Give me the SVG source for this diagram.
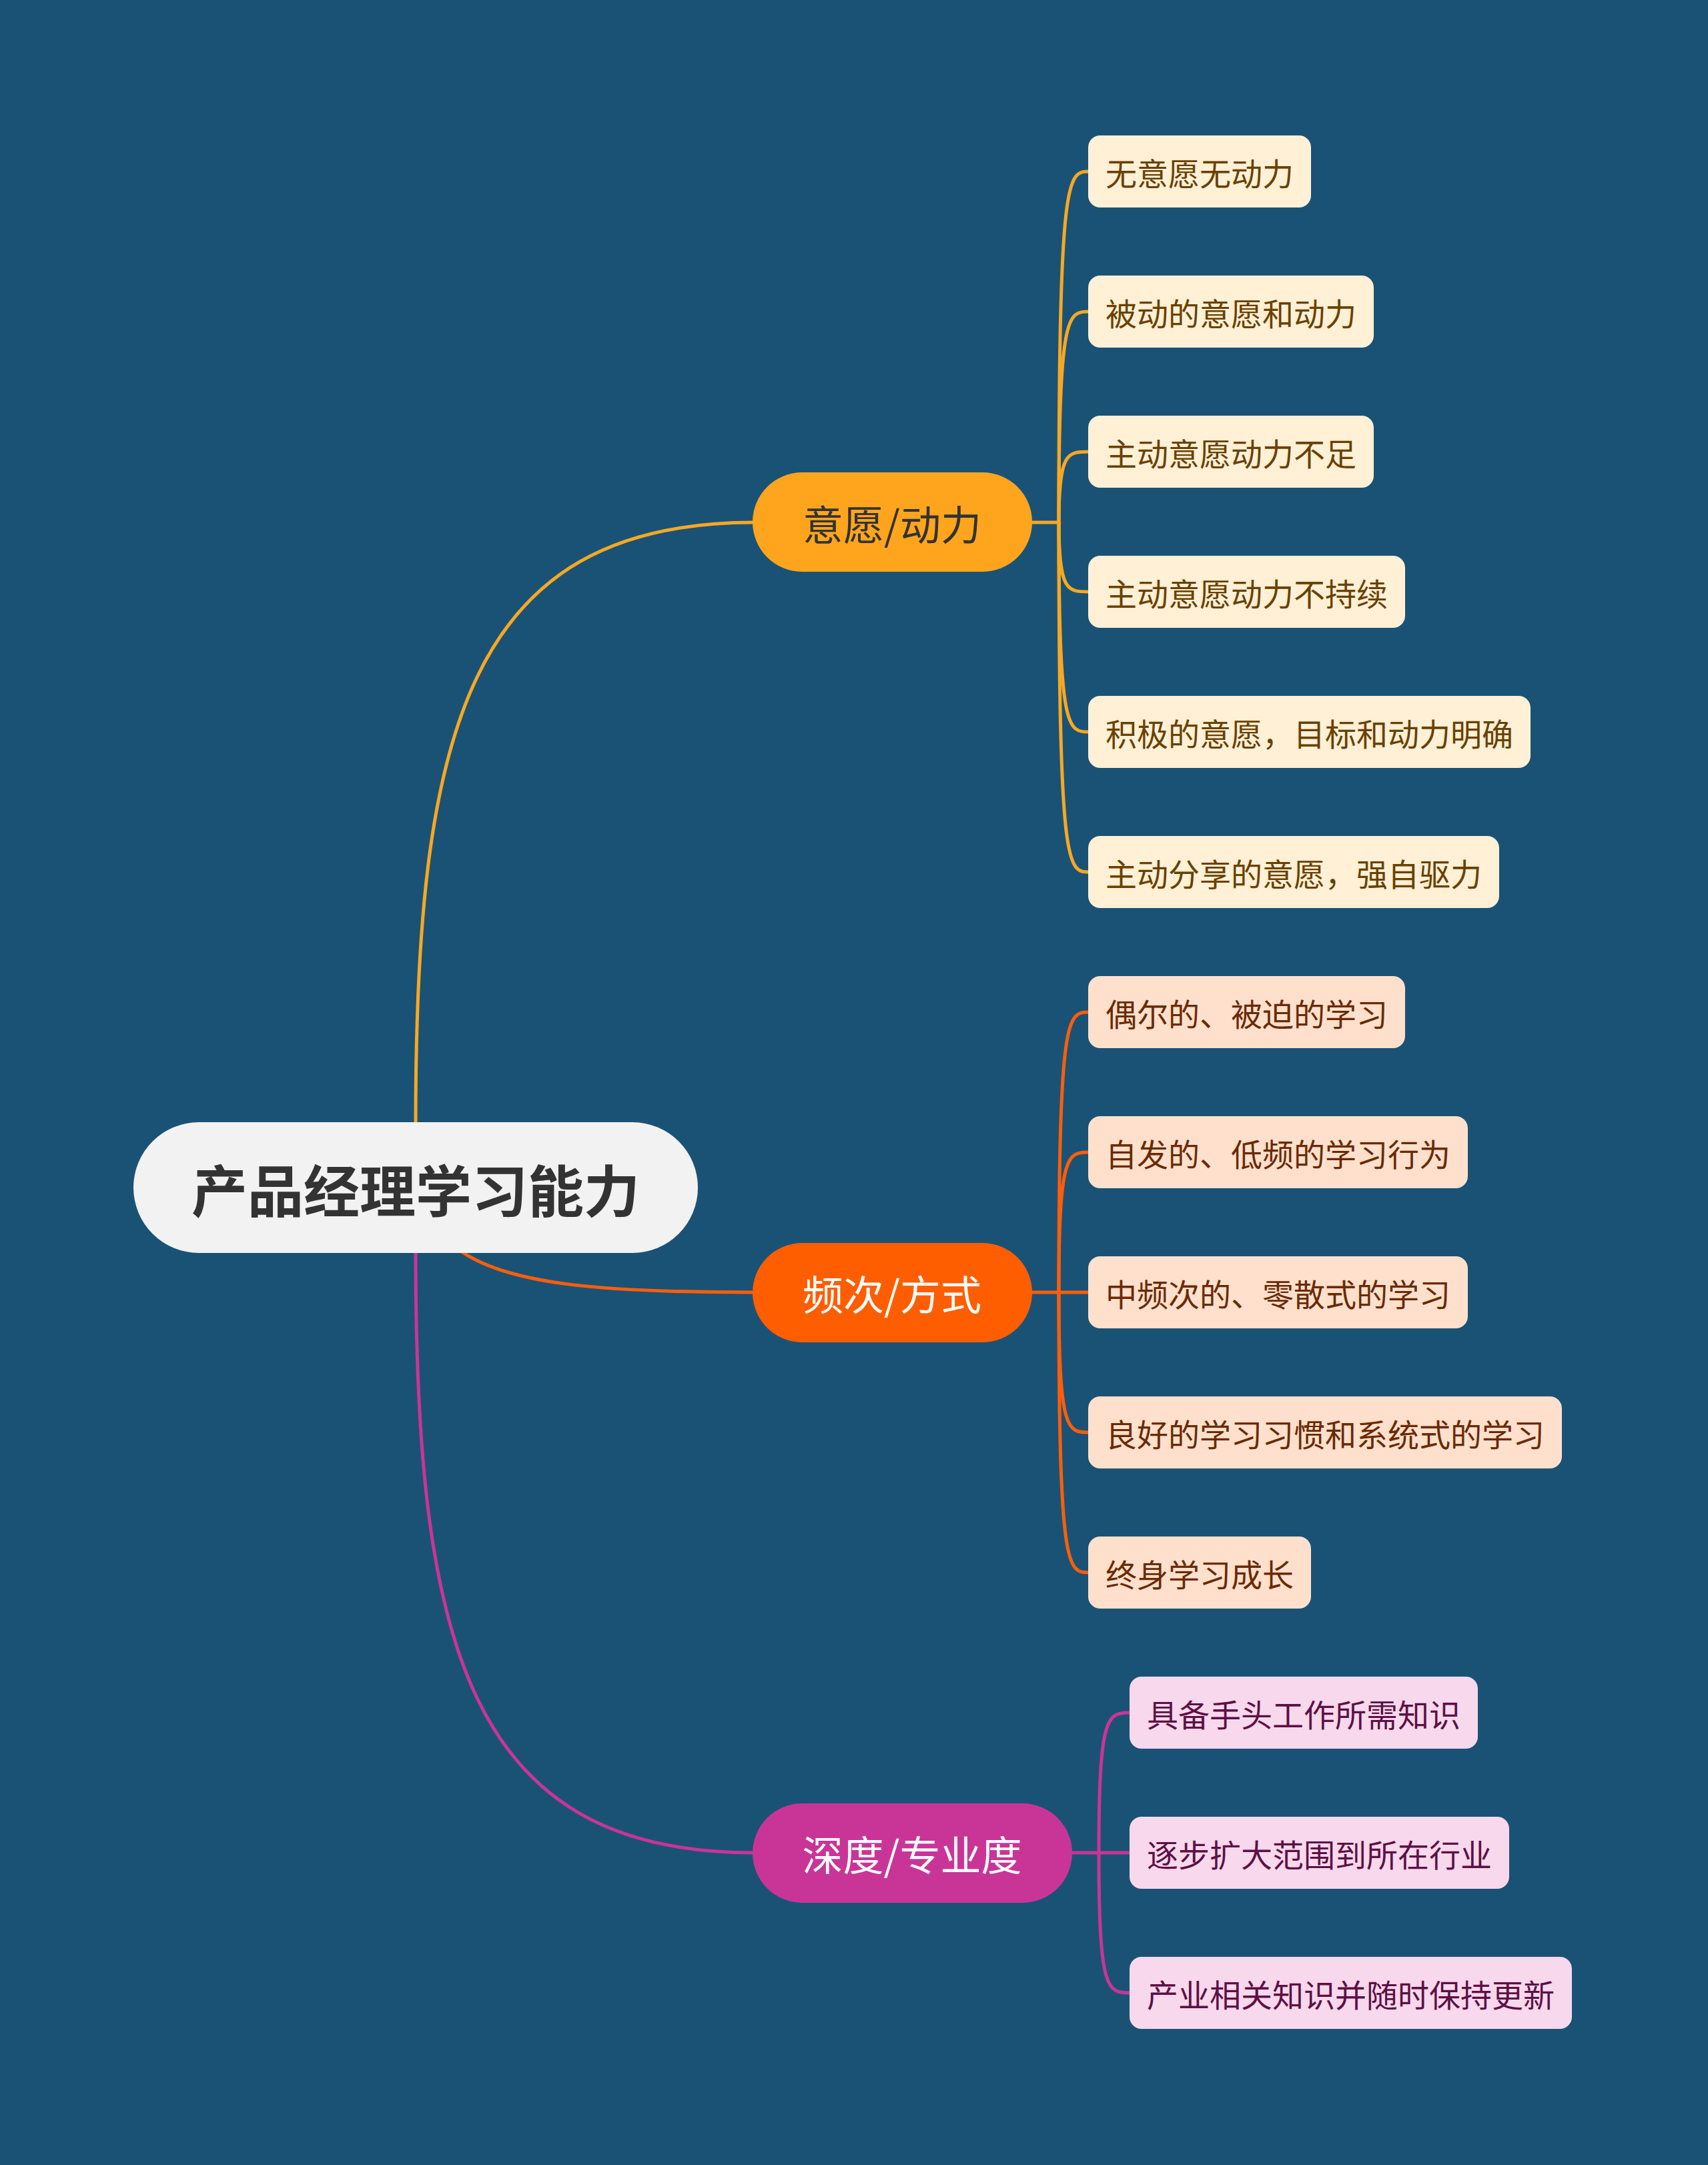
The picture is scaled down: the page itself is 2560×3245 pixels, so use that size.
<svg xmlns="http://www.w3.org/2000/svg" width="2560" height="3245" viewBox="0 0 2560 3245">
<style>
text { font-family: "Noto Sans CJK SC", "Noto Sans", sans-serif; dominant-baseline: central; }
.root-t { font-size: 84px; font-weight: bold; fill: #333333; text-anchor: middle; }
.main-t { font-size: 61px; text-anchor: middle; }
.leaf-t { font-size: 47px; }
.c { fill: none; stroke-linecap: round; }
.c1 { stroke: #f7a823; stroke-width: 5; }
.c2 { stroke: #ff5e0a; stroke-width: 5; }
.c3 { stroke: #c93597; stroke-width: 5; }
.l1 { fill: #fff0d6; }
.l2 { fill: #ffe0cc; }
.l3 { fill: #f8d8ec; }
.t1 { fill: #6a4100; }
.t2 { fill: #6b2a05; }
.t3 { fill: #5e1045; }
</style>
<rect x="0" y="0" width="2560" height="3245" fill="#1a5276"/>
<g id="connectors">
  <path class="c c1" d="M 623 1684 C 623 1100, 700 783, 1130 783"/>
  <path class="c c2" d="M 689 1874 C 760 1925, 900 1937, 1130 1937"/>
  <path class="c c3" d="M 623 1876 C 623 2460, 700 2777, 1130 2777"/>
  <path class="c c1" d="M 1545 783 L 1587 783"/>
  <path class="c c1" d="M 1587 783 C 1587 257, 1600 257, 1633 257"/>
  <path class="c c1" d="M 1587 783 C 1587 467, 1600 467, 1633 467"/>
  <path class="c c1" d="M 1587 783 C 1587 677, 1600 677, 1633 677"/>
  <path class="c c1" d="M 1587 783 C 1587 887, 1600 887, 1633 887"/>
  <path class="c c1" d="M 1587 783 C 1587 1097, 1600 1097, 1633 1097"/>
  <path class="c c1" d="M 1587 783 C 1587 1307, 1600 1307, 1633 1307"/>
  <path class="c c2" d="M 1545 1937 L 1587 1937"/>
  <path class="c c2" d="M 1587 1937 C 1587 1517, 1600 1517, 1633 1517"/>
  <path class="c c2" d="M 1587 1937 C 1587 1727, 1600 1727, 1633 1727"/>
  <path class="c c2" d="M 1587 1937 L 1633 1937"/>
  <path class="c c2" d="M 1587 1937 C 1587 2147, 1600 2147, 1633 2147"/>
  <path class="c c2" d="M 1587 1937 C 1587 2357, 1600 2357, 1633 2357"/>
  <path class="c c3" d="M 1605 2777 L 1647 2777"/>
  <path class="c c3" d="M 1647 2777 C 1647 2567, 1660 2567, 1695 2567"/>
  <path class="c c3" d="M 1647 2777 L 1695 2777"/>
  <path class="c c3" d="M 1647 2777 C 1647 2987, 1660 2987, 1695 2987"/>
</g>
<g id="root">
  <rect x="200" y="1682" width="846" height="196" rx="98" fill="#f2f2f2"/>
  <text class="root-t" x="623" y="1780">产品经理学习能力</text>
</g>
<g id="b1">
  <rect x="1128" y="708" width="419" height="149" rx="74.5" fill="#ffa51d"/>
  <text class="main-t" x="1337" y="783" fill="#333333">意愿/动力</text>
</g>
<g id="b2">
  <rect x="1128" y="1863" width="419" height="149" rx="74.5" fill="#ff5e00"/>
  <text class="main-t" x="1337" y="1937" fill="#ffffff">频次/方式</text>
</g>
<g id="b3">
  <rect x="1128" y="2703" width="479" height="149" rx="74.5" fill="#c93597"/>
  <text class="main-t" x="1367" y="2777" fill="#ffffff">深度/专业度</text>
</g>
<g id="l1-1"><rect class="l1" x="1631" y="203" width="334" height="108" rx="18"/><text class="leaf-t t1" x="1657" y="257">无意愿无动力</text></g>
<g id="l1-2"><rect class="l1" x="1631" y="413" width="428" height="108" rx="18"/><text class="leaf-t t1" x="1657" y="467">被动的意愿和动力</text></g>
<g id="l1-3"><rect class="l1" x="1631" y="623" width="428" height="108" rx="18"/><text class="leaf-t t1" x="1657" y="677">主动意愿动力不足</text></g>
<g id="l1-4"><rect class="l1" x="1631" y="833" width="475" height="108" rx="18"/><text class="leaf-t t1" x="1657" y="887">主动意愿动力不持续</text></g>
<g id="l1-5"><rect class="l1" x="1631" y="1043" width="663" height="108" rx="18"/><text class="leaf-t t1" x="1657" y="1097">积极的意愿，目标和动力明确</text></g>
<g id="l1-6"><rect class="l1" x="1631" y="1253" width="616" height="108" rx="18"/><text class="leaf-t t1" x="1657" y="1307">主动分享的意愿，强自驱力</text></g>
<g id="l2-1"><rect class="l2" x="1631" y="1463" width="475" height="108" rx="18"/><text class="leaf-t t2" x="1657" y="1517">偶尔的、被迫的学习</text></g>
<g id="l2-2"><rect class="l2" x="1631" y="1673" width="569" height="108" rx="18"/><text class="leaf-t t2" x="1657" y="1727">自发的、低频的学习行为</text></g>
<g id="l2-3"><rect class="l2" x="1631" y="1883" width="569" height="108" rx="18"/><text class="leaf-t t2" x="1657" y="1937">中频次的、零散式的学习</text></g>
<g id="l2-4"><rect class="l2" x="1631" y="2093" width="710" height="108" rx="18"/><text class="leaf-t t2" x="1657" y="2147">良好的学习习惯和系统式的学习</text></g>
<g id="l2-5"><rect class="l2" x="1631" y="2303" width="334" height="108" rx="18"/><text class="leaf-t t2" x="1657" y="2357">终身学习成长</text></g>
<g id="l3-1"><rect class="l3" x="1693" y="2513" width="522" height="108" rx="18"/><text class="leaf-t t3" x="1719" y="2567">具备手头工作所需知识</text></g>
<g id="l3-2"><rect class="l3" x="1693" y="2723" width="569" height="108" rx="18"/><text class="leaf-t t3" x="1719" y="2777">逐步扩大范围到所在行业</text></g>
<g id="l3-3"><rect class="l3" x="1693" y="2933" width="663" height="108" rx="18"/><text class="leaf-t t3" x="1719" y="2987">产业相关知识并随时保持更新</text></g>
</svg>
